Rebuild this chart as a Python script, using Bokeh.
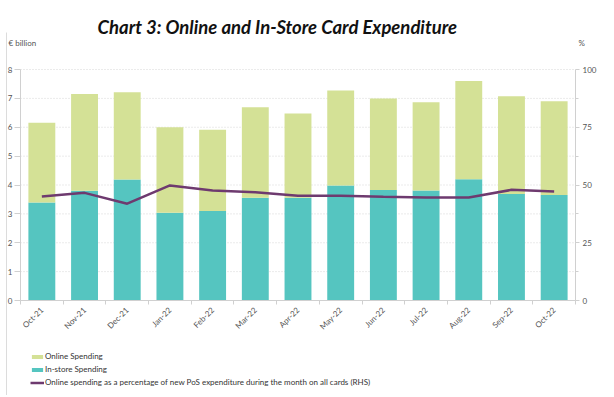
import math
from bokeh.plotting import figure
from bokeh.models import (Range1d, LinearAxis, FixedTicker, Label, Legend,
                          LegendItem, ColumnDataSource)
from bokeh.embed import file_html
from bokeh.resources import INLINE

# ---- data ----
months = ["Oct-21", "Nov-21", "Dec-21", "Jan-22", "Feb-22", "Mar-22", "Apr-22",
          "May-22", "Jun-22", "Jul-22", "Aug-22", "Sep-22", "Oct-22"]
in_store = [3.39, 3.80, 4.19, 3.04, 3.10, 3.56, 3.56, 3.98, 3.83, 3.81, 4.20, 3.69, 3.65]
online = [2.77, 3.35, 3.02, 2.96, 2.81, 3.13, 2.92, 3.29, 3.17, 3.06, 3.40, 3.38, 3.25]
online_pct = [45.0, 46.6, 41.9, 49.8, 47.6, 46.9, 45.3, 45.3, 44.9, 44.6, 44.6, 47.9, 47.2]
left_ticks = [0, 1, 2, 3, 4, 5, 6, 7, 8]
right_ticks = [0, 25, 50, 75, 100]
right_minor = [12.5, 37.5, 62.5, 87.5]

GREEN = "#d4e196"
TEAL = "#55c5c0"
PURPLE = "#6e3a6f"
AXIS = "#d0d0d0"
TXT = "#555555"
FONT = "Lato"

# ---- layout geometry (pixels inside the canvas) ----
W, H = 612, 395
FX0, FX1 = 20, 575       # where x = 0 and x = n fall
FY_TOP, FY_BOT = 69, 300  # where y = 8 and y = 0 fall
n = len(months)
ymax = left_ticks[-1]
pmax = right_ticks[-1]
xs_px = (FX1 - FX0) / n
ys_px = (FY_BOT - FY_TOP) / ymax
x_start = -FX0 / xs_px
x_end = n + (W - FX1) / xs_px
y_end = ymax + FY_TOP / ys_px
y_start = -(H - FY_BOT) / ys_px
k = pmax / ymax


def px_x(px):
    return x_start + px / xs_px


def px_y(py):
    return y_end - py / ys_px


xs = [i + 0.5 for i in range(n)]
src = ColumnDataSource(dict(x=xs, in_store=in_store, online=online, pct=online_pct))

p = figure(width=W, height=H, output_backend="svg", toolbar_location=None,
           title=None,
           x_range=Range1d(x_start, x_end), y_range=Range1d(y_start, y_end),
           min_border_left=0, min_border_right=0, min_border_bottom=0,
           min_border_top=0)
p.extra_y_ranges = {"pct": Range1d(y_start * k, y_end * k)}

p.outline_line_color = None
p.xgrid.grid_line_color = None
p.ygrid.grid_line_color = None

# thin frame line on the left edge of the chart box
p.segment(x0=[px_x(6)], x1=[px_x(6)], y0=[px_y(32)], y1=[y_start],
          line_color="#dcdcdc", line_width=1)

# dotted horizontal gridlines between the two axes
p.segment(x0=[0] * len(left_ticks), x1=[n] * len(left_ticks), y0=left_ticks,
          y1=left_ticks, line_color="#d6d6d6", line_dash="1 2", line_width=1)

# bars and line
rs = p.vbar_stack(["in_store", "online"], x="x", width=0.63, color=[TEAL, GREEN],
                  line_color=None, source=src)
r_line = p.line("x", "pct", source=src, y_range_name="pct", line_color=PURPLE,
                line_width=2.5)

# x axis
xa = p.xaxis[0]
xa.fixed_location = 0
xa.bounds = (0, n)
xa.ticker = FixedTicker(ticks=xs, minor_ticks=list(range(n + 1)))
xa.major_label_overrides = {x: m for x, m in zip(xs, months)}
xa.major_label_orientation = math.pi / 4
xa.major_tick_out = 0
xa.major_tick_in = 0
xa.minor_tick_out = 4
xa.minor_tick_in = 0
xa.minor_tick_line_color = AXIS
xa.axis_line_color = AXIS
xa.major_label_text_font = FONT
xa.major_label_text_font_size = "8px"
xa.major_label_text_color = TXT
xa.major_label_standoff = 4

# left axis
ya = p.yaxis[0]
ya.fixed_location = 0
ya.bounds = (0, ymax)
ya.ticker = FixedTicker(ticks=left_ticks)
ya.axis_line_color = AXIS
ya.major_tick_line_color = AXIS
ya.major_tick_out = 6
ya.major_tick_in = 0
ya.minor_tick_line_color = None
ya.major_label_text_font = FONT
ya.major_label_text_font_size = "8px"
ya.major_label_text_color = TXT
ya.major_label_standoff = 2

# right axis (%)
ra = LinearAxis(y_range_name="pct", fixed_location=n, bounds=(0, pmax),
                ticker=FixedTicker(ticks=right_ticks, minor_ticks=right_minor))
ra.axis_line_color = AXIS
ra.major_tick_line_color = AXIS
ra.minor_tick_line_color = AXIS
ra.major_tick_out = 4
ra.major_tick_in = 0
ra.minor_tick_out = 3
ra.minor_tick_in = 0
ra.major_label_text_font = FONT
ra.major_label_text_font_size = "8px"
ra.major_label_text_color = TXT
ra.major_label_standoff = 3
p.add_layout(ra, "right")

# title and unit labels
p.add_layout(Label(x=px_x(97), y=px_y(26),
                   text="Chart 3: Online and In-Store Card Expenditure",
                   text_font=FONT, text_font_style="bold italic",
                   text_font_size="18.5px", text_color="#111111",
                   text_baseline="alphabetic"))
p.add_layout(Label(x=px_x(8), y=px_y(42), text="€ billion", text_font=FONT,
                   text_font_size="8px", text_color=TXT, text_baseline="middle"))
p.add_layout(Label(x=px_x(578), y=px_y(42), text="%", text_font=FONT,
                   text_font_size="8px", text_color=TXT, text_baseline="middle"))

# legend
legend = Legend(items=[
    LegendItem(label="Online Spending", renderers=[rs[1]]),
    LegendItem(label="In-store Spending", renderers=[rs[0]]),
    LegendItem(label="Online spending as a percentage of new PoS expenditure during the month on all cards (RHS)",
               renderers=[r_line]),
], location=(30, H - 387), orientation="vertical")
legend.label_text_font = FONT
legend.label_text_font_size = "8px"
legend.label_text_color = "#333333"
legend.glyph_width = 14
legend.glyph_height = 5
legend.label_height = 10
legend.label_standoff = 1
legend.spacing = 3
legend.padding = 0
legend.margin = 0
legend.border_line_color = None
legend.background_fill_alpha = 0
p.add_layout(legend)

open("out.html", "w").write(file_html(p, INLINE))
